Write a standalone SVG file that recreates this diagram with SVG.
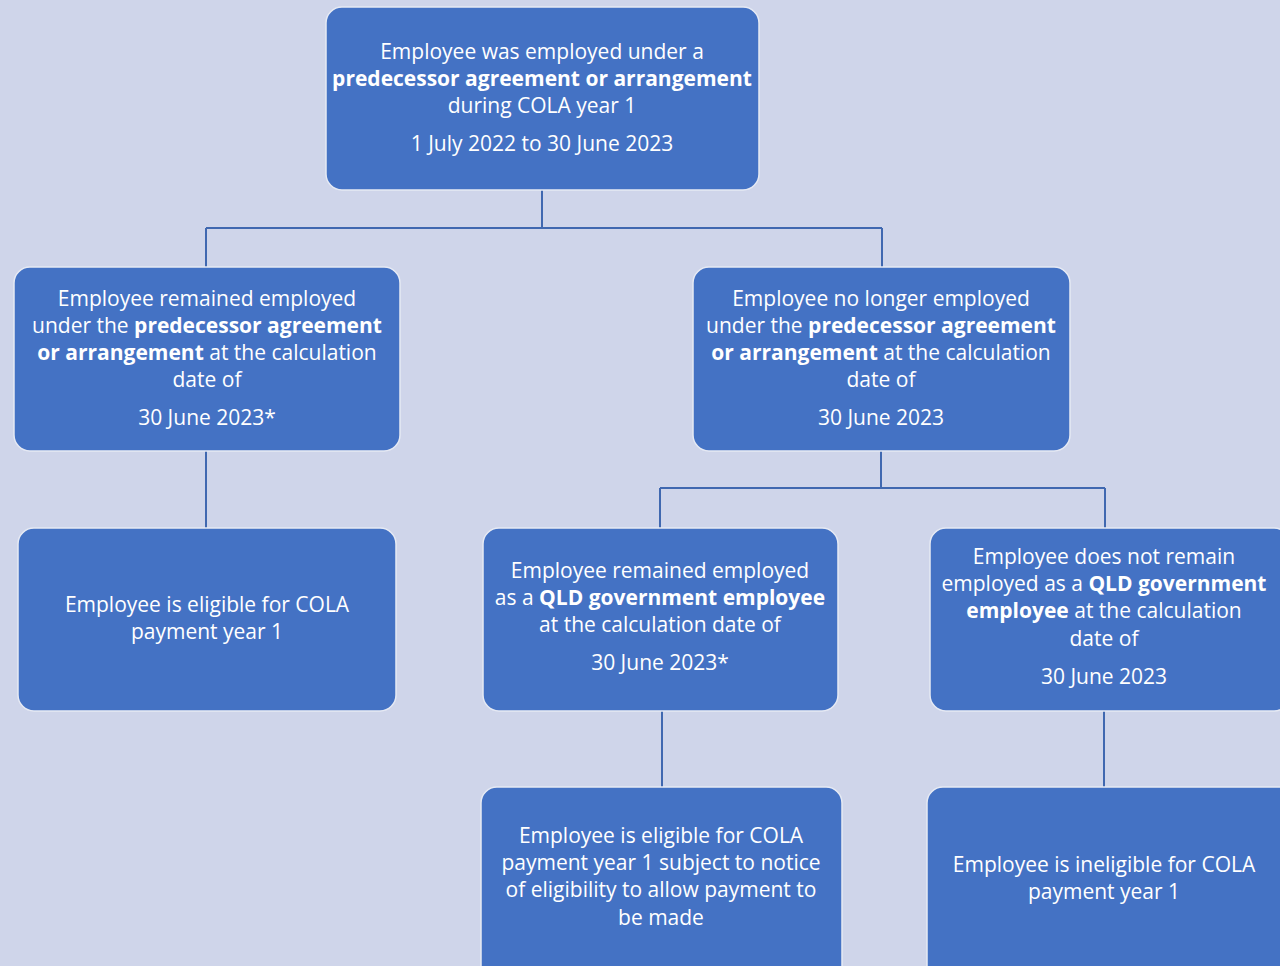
<svg xmlns="http://www.w3.org/2000/svg" width="1280" height="966" viewBox="0 0 1280 966">
<style>
.bg{fill:#CFD5EA}
.box{fill:#4472C4;stroke:#E6EAF4;stroke-width:1.5}
.ln{stroke:#4068B0;stroke-width:2;fill:none}
text{font-family:"Open Sans",Lato,"Liberation Sans",sans-serif;font-size:21px;fill:#FFFFFF;text-anchor:middle}
.b{font-weight:bold}
</style>
<rect class="bg" x="0" y="0" width="1280" height="966"/>
<g id="connectors">
<path class="ln" d="M542,190 V228 M206,228 H882 M206,228 V267 M882,228 V267"/>
<path class="ln" d="M206,451 V528"/>
<path class="ln" d="M881,451 V488 M660,488 H1105 M660,488 V528 M1105,488 V528"/>
<path class="ln" d="M662,711 V787 M1104,711 V787"/>
</g>
<g id="n1">
<rect class="box" x="326" y="7" width="433" height="183" rx="16"/>
<text x="542" y="59">Employee was employed under a</text>
<text x="542" y="86" class="b">predecessor agreement or arrangement</text>
<text x="542" y="113">during COLA year 1</text>
<text x="542" y="151">1 July 2022 to 30 June 2023</text>
</g>
<g id="n2">
<rect class="box" x="14" y="267" width="386" height="184" rx="16"/>
<text x="207" y="306">Employee remained employed</text>
<text x="207" y="333">under the <tspan class="b">predecessor agreement</tspan></text>
<text x="207" y="360"><tspan class="b">or arrangement</tspan> at the calculation</text>
<text x="207" y="387">date of</text>
<text x="207" y="425">30 June 2023*</text>
</g>
<g id="n3">
<rect class="box" x="693" y="267" width="377" height="184" rx="16"/>
<text x="881" y="306">Employee no longer employed</text>
<text x="881" y="333">under the <tspan class="b">predecessor agreement</tspan></text>
<text x="881" y="360"><tspan class="b">or arrangement</tspan> at the calculation</text>
<text x="881" y="387">date of</text>
<text x="881" y="425">30 June 2023</text>
</g>
<g id="n4">
<rect class="box" x="18" y="528" width="378" height="183" rx="16"/>
<text x="207" y="612">Employee is eligible for COLA</text>
<text x="207" y="639">payment year 1</text>
</g>
<g id="n5">
<rect class="box" x="483" y="528" width="355" height="183" rx="16"/>
<text x="660" y="578">Employee remained employed</text>
<text x="660" y="605">as a <tspan class="b">QLD government employee</tspan></text>
<text x="660" y="632">at the calculation date of</text>
<text x="660" y="670">30 June 2023*</text>
</g>
<g id="n6">
<rect class="box" x="930" y="528" width="360" height="183" rx="16"/>
<text x="1104" y="564">Employee does not remain</text>
<text x="1104" y="591">employed as a <tspan class="b">QLD government</tspan></text>
<text x="1104" y="618"><tspan class="b">employee</tspan> at the calculation</text>
<text x="1104" y="646">date of</text>
<text x="1104" y="684">30 June 2023</text>
</g>
<g id="n7">
<rect class="box" x="481" y="787" width="361" height="200" rx="16"/>
<text x="661" y="843">Employee is eligible for COLA</text>
<text x="661" y="870">payment year 1 subject to notice</text>
<text x="661" y="897">of eligibility to allow payment to</text>
<text x="661" y="925">be made</text>
</g>
<g id="n8">
<rect class="box" x="927" y="787" width="370" height="200" rx="16"/>
<text x="1104" y="872">Employee is ineligible for COLA</text>
<text x="1104" y="899">payment year 1</text>
</g>
</svg>
